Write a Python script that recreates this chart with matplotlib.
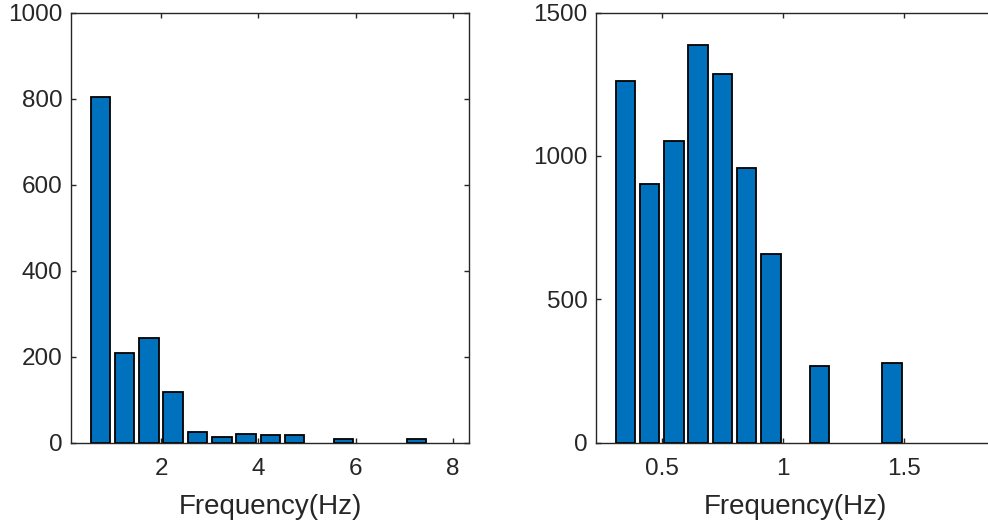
import matplotlib
matplotlib.use("Agg")
import matplotlib.pyplot as plt

# ---- data (empty bins are not drawn) ----
left_bins = [0.75, 1.25, 1.75, 2.25, 2.75, 3.25, 3.75, 4.25, 4.75, 5.75, 7.25]
left_counts = [804, 208, 244, 117, 24, 12, 19, 17, 17, 9, 7]
left_yticks = [0, 200, 400, 600, 800, 1000]
left_xticks = [2, 4, 6, 8]
left_xticklabels = ["2", "4", "6", "8"]

right_bins = [0.35, 0.45, 0.55, 0.65, 0.75, 0.85, 0.95, 1.15, 1.45]
right_counts = [1263, 903, 1051, 1388, 1287, 959, 658, 268, 279]
right_yticks = [0, 500, 1000, 1500]
right_xticks = [0.5, 1.0, 1.5]
right_xticklabels = ["0.5", "1", "1.5"]

xlabel_text = "Frequency(Hz)"

# ---- style ----
BAR_COLOR = "#0072BD"
TXT = "#262626"
plt.rcParams["font.family"] = ["Liberation Sans", "DejaVu Sans"]

W, H = 988, 524
fig = plt.figure(figsize=(W / 100, H / 100), dpi=100)

def setup(ax, bins, counts, width, xlim, ylim, yticks, xticks, xticklabels):
    ax.bar(bins, counts, width=width, color=BAR_COLOR, edgecolor="black",
           linewidth=1.3, zorder=2)
    ax.set_xlim(*xlim)
    ax.set_ylim(*ylim)
    ax.set_yticks(yticks)
    ax.set_yticklabels([str(v) for v in yticks])
    ax.set_xticks(xticks)
    ax.set_xticklabels(xticklabels)
    for s in ax.spines.values():
        s.set_color(TXT)
        s.set_linewidth(1.0)
        s.set_zorder(3)
    ax.tick_params(direction="in", length=3.6, width=1.0, color=TXT,
                   labelcolor=TXT, labelsize=17.5, top=True, right=True)
    ax.tick_params(axis="x", pad=11)
    ax.tick_params(axis="y", pad=6)
    ax.set_xlabel(xlabel_text, fontsize=20, color=TXT, labelpad=10)

axw = 398.3 / W
axh = 429.8 / H
axb = 1 - 442.5 / H

ax1 = fig.add_axes([71 / W, axb, axw, axh])
setup(ax1, left_bins, left_counts, 0.4, (0.148, 8.34), (0, 1000),
      left_yticks, left_xticks, left_xticklabels)

ax2 = fig.add_axes([596 / W, axb, axw, axh])
setup(ax2, right_bins, right_counts, 0.08, (0.229, 1.871), (0, 1500),
      right_yticks, right_xticks, right_xticklabels)

fig.savefig("out.png", dpi=100)
